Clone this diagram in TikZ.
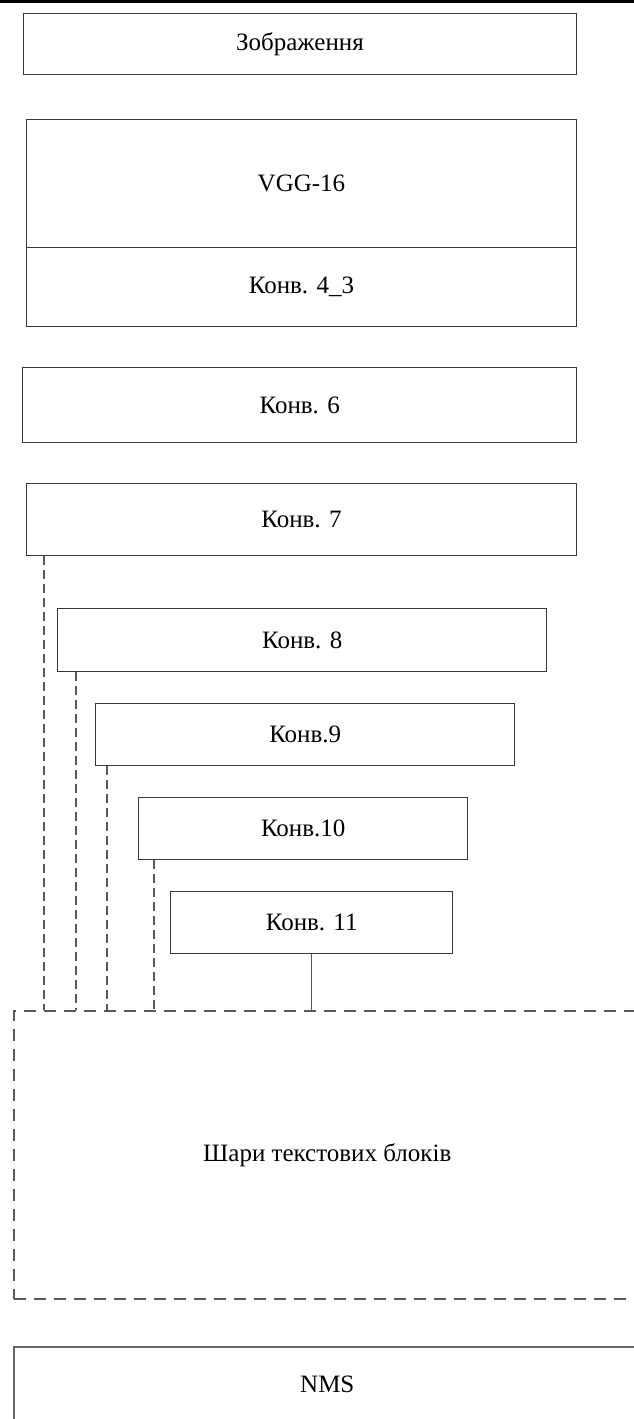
\documentclass[tikz,border=0pt]{standalone}
\usepackage{fontspec}
\setmainfont{Liberation Serif}
\begin{document}
\begin{tikzpicture}[x=1pt,y=-1pt,
  box/.style={draw=black!78,line width=1.4pt,fill=white,anchor=north west,inner sep=0pt,
    font=\fontsize{25}{30}\selectfont},
  dbox/.style={draw=black!65,line width=1.5pt,dash pattern=on 12pt off 8pt,anchor=north west,inner sep=0pt,
    font=\fontsize{25}{30}\selectfont},
  conn/.style={draw=black!65,line width=1.4pt,dash pattern=on 9pt off 5pt},
  solid conn/.style={draw=black!65,line width=1.4pt}]
\useasboundingbox (0,0) rectangle (634,1419);
\fill[black] (0,0) rectangle (634,3.4);
\node[box,minimum width=553.5pt,minimum height=61.5pt] (img) at (22.5,12.5) {Зображення};
\node[box,minimum width=550.5pt,minimum height=128.5pt] (vgg) at (25.5,118.5) {VGG-16};
\node[box,minimum width=550.5pt,minimum height=78.5pt] (c43) at (25.5,247) {Конв. 4\_3};
\node[box,minimum width=554pt,minimum height=75pt] (c6) at (22,367) {Конв. 6};
\node[box,minimum width=550.5pt,minimum height=72pt] (c7) at (25.5,483) {Конв. 7};
\node[box,minimum width=489pt,minimum height=63pt] (c8) at (57,608) {Конв. 8};
\node[box,minimum width=419pt,minimum height=62pt] (c9) at (95,703) {Конв.9};
\node[box,minimum width=329pt,minimum height=62pt] (c10) at (138,797) {Конв.10};
\node[box,minimum width=282pt,minimum height=62pt] (c11) at (170,891) {Конв. 11};
\node[dbox,minimum width=627pt,minimum height=288pt] (layers) at (13,1010) {Шари текстових блоків};
\node[box,minimum width=627pt,minimum height=76pt,draw=black!60,line width=1.6pt] (nms) at (13,1346) {NMS};
\coordinate (x7) at (44,0);
\coordinate (x8) at (76,0);
\coordinate (x9) at (107,0);
\coordinate (x10) at (154,0);
\draw[conn] (c7.south -| x7) -- (layers.north -| x7);
\draw[conn] (c8.south -| x8) -- (layers.north -| x8);
\draw[conn] (c9.south -| x9) -- (layers.north -| x9);
\draw[conn] (c10.south -| x10) -- (layers.north -| x10);
\draw[solid conn] (c11.south) -- (layers.north -| c11.south);
\end{tikzpicture}
\end{document}
